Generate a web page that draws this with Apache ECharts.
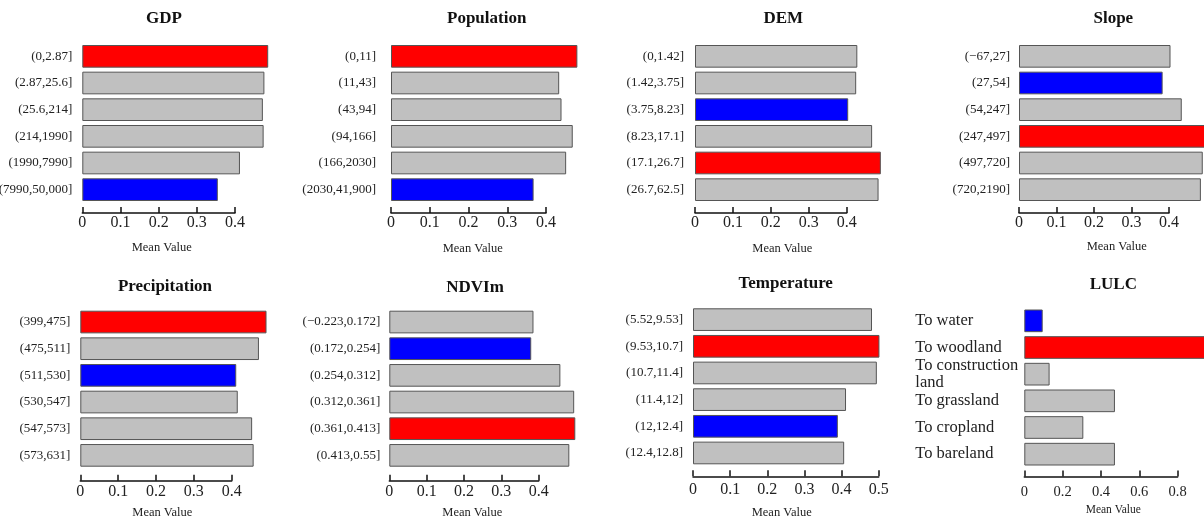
<!DOCTYPE html>
<html>
<head>
<meta charset="utf-8">
<title>Mean Value</title>
<script src="https://cdn.jsdelivr.net/npm/echarts@6/dist/echarts.min.js"></script>
<style>
  html, body { margin: 0; padding: 0; background: #fff; }
  #chart { width: 1204px; height: 523px; }
</style>
</head>
<body>
<div id="chart"></div>
<script>
  // 各因子分级与均值
  const gdpCats = ['(0,2.87]', '(2.87,25.6]', '(25.6,214]', '(214,1990]', '(1990,7990]', '(7990,50,000]']
  const gdpVals = [0.487, 0.477, 0.473, 0.475, 0.413, 0.355]

  const popCats = ['(0,11]', '(11,43]', '(43,94]', '(94,166]', '(166,2030]', '(2030,41,900]']
  const popVals = [0.481, 0.434, 0.440, 0.469, 0.452, 0.368]

  const demCats = ['(0,1.42]', '(1.42,3.75]', '(3.75,8.23]', '(8.23,17.1]', '(17.1,26.7]', '(26.7,62.5]']
  const demVals = [0.428, 0.425, 0.404, 0.467, 0.490, 0.484]

  const slopeCats = ['(\u221267,27]', '(27,54]', '(54,247]', '(247,497]', '(497,720]', '(720,2190]']
  const slopeVals = [0.404, 0.383, 0.434, 0.500, 0.490, 0.485]

  const precCats = ['(399,475]', '(475,511]', '(511,530]', '(530,547]', '(547,573]', '(573,631]']
  const precVals = [0.492, 0.472, 0.412, 0.416, 0.454, 0.458]

  const ndviCats = ['(\u22120.223,0.172]', '(0.172,0.254]', '(0.254,0.312]', '(0.312,0.361]', '(0.361,0.413]', '(0.413,0.55]']
  const ndviVals = [0.386, 0.380, 0.458, 0.495, 0.498, 0.482]

  const tempCats = ['(5.52,9.53]', '(9.53,10.7]', '(10.7,11.4]', '(11.4,12]', '(12,12.4]', '(12.4,12.8]']
  const tempVals = [0.482, 0.502, 0.495, 0.412, 0.390, 0.407]

  const lulcCats = ['To water', 'To woodland', 'To construction\nland', 'To grassland', 'To cropland', 'To bareland']
  const lulcVals = [0.096, 0.980, 0.132, 0.473, 0.308, 0.473]

  const titles = ['GDP', 'Population', 'DEM', 'Slope', 'Precipitation', 'NDVIm', 'Temperature', 'LULC']
  const cats = [gdpCats, popCats, demCats, slopeCats, precCats, ndviCats, tempCats, lulcCats]
  const vals = [gdpVals, popVals, demVals, slopeVals, precVals, ndviVals, tempVals, lulcVals]

  // 每个小图的位置（像素）
  const panels = [
    { left: 82.3, width: 152.7, top: 43, offset: 10, max: 0.4, interval: 0.1, margin: 10, gap: 1.5, tx: 164, ty: 19.5, mx: 161.7, my: 248 },
    { left: 391, width: 155, top: 43, offset: 10, max: 0.4, interval: 0.1, margin: 15, gap: 1.5, tx: 486.7, ty: 19, mx: 472.7, my: 248.3 },
    { left: 695, width: 151.7, top: 43, offset: 10, max: 0.4, interval: 0.1, margin: 11, gap: 1.5, tx: 783.3, ty: 19.3, mx: 782.3, my: 248.3 },
    { left: 1019, width: 150, top: 43, offset: 10, max: 0.4, interval: 0.1, margin: 9, gap: 1.5, tx: 1113.3, ty: 19, mx: 1116.7, my: 246.7 },
    { left: 80.3, width: 151.4, top: 308.7, offset: 12, max: 0.4, interval: 0.1, margin: 10, gap: 3, tx: 165, ty: 287, mx: 162.3, my: 512.7 },
    { left: 389.3, width: 149.4, top: 308.7, offset: 12, max: 0.4, interval: 0.1, margin: 9, gap: 3, tx: 475, ty: 288, mx: 472.3, my: 512.7 },
    { left: 693, width: 185.7, top: 306.3, offset: 10, max: 0.5, interval: 0.1, margin: 10, gap: 5.5, tx: 785.7, ty: 284, mx: 781.7, my: 512.7 },
    { left: 1024.3, width: 153.3, top: 307.5, offset: 9, max: 0.8, interval: 0.2, margin: 109, gap: 8, tx: 1113.3, ty: 285, mx: 1113.3, my: 510.3, lulc: true }
  ]

  const serif = "'Liberation Serif', 'Times New Roman', serif"

  let grid = [], xAxis = [], yAxis = [], series = [], title = []
  panels.forEach((p, i) => {
    let v = vals[i]
    let hi = Math.max(...v)
    let lo = Math.min(...v)
    grid.push({ left: p.left, width: p.width, top: p.top, height: 160, outerBoundsMode: 'none' })
    xAxis.push({
      gridIndex: i,
      type: 'value',
      min: 0,
      max: p.max,
      interval: p.interval,
      offset: p.offset,
      splitLine: { show: false },
      axisLine: { show: true, lineStyle: { color: '#111', width: 1.5 } },
      axisTick: { show: true, inside: true, length: 6, lineStyle: { color: '#111', width: 1.5 } },
      axisLabel: { margin: p.gap, fontFamily: serif, fontSize: p.lulc ? 14.5 : 16, color: '#222' }
    })
    yAxis.push({
      gridIndex: i,
      type: 'category',
      inverse: true,
      data: cats[i],
      axisLine: { show: false },
      axisTick: { show: false },
      axisLabel: {
        margin: p.margin,
        align: p.lulc ? 'left' : 'right',
        fontFamily: serif,
        fontSize: p.lulc ? 16.5 : 13,
        lineHeight: p.lulc ? 17 : 15,
        color: '#222'
      }
    })
    series.push({
      type: 'bar',
      xAxisIndex: i,
      yAxisIndex: i,
      clip: false,
      barCategoryGap: '15%',
      data: v.map(x => ({
        value: x,
        itemStyle: { color: x === hi ? '#ff0000' : (x === lo ? '#0000ff' : '#c0c0c0') }
      })),
      itemStyle: { borderColor: '#555', borderWidth: 1 }
    })
    title.push({
      text: titles[i],
      left: p.tx,
      top: p.ty - 9,
      textAlign: 'center',
      padding: 0,
      textStyle: { fontFamily: serif, fontWeight: 'bold', fontSize: 17, color: '#111' }
    })
    title.push({
      text: 'Mean Value',
      left: p.mx,
      top: p.my - 6.5,
      textAlign: 'center',
      padding: 0,
      textStyle: { fontFamily: serif, fontWeight: 'normal', fontSize: p.lulc ? 11.5 : 12.5, color: '#222' }
    })
  })

  let chart = echarts.init(document.getElementById('chart'))
  chart.setOption({
    animation: false,
    backgroundColor: '#fff',
    title: title,
    grid: grid,
    xAxis: xAxis,
    yAxis: yAxis,
    series: series
  })
</script>
</body>
</html>
